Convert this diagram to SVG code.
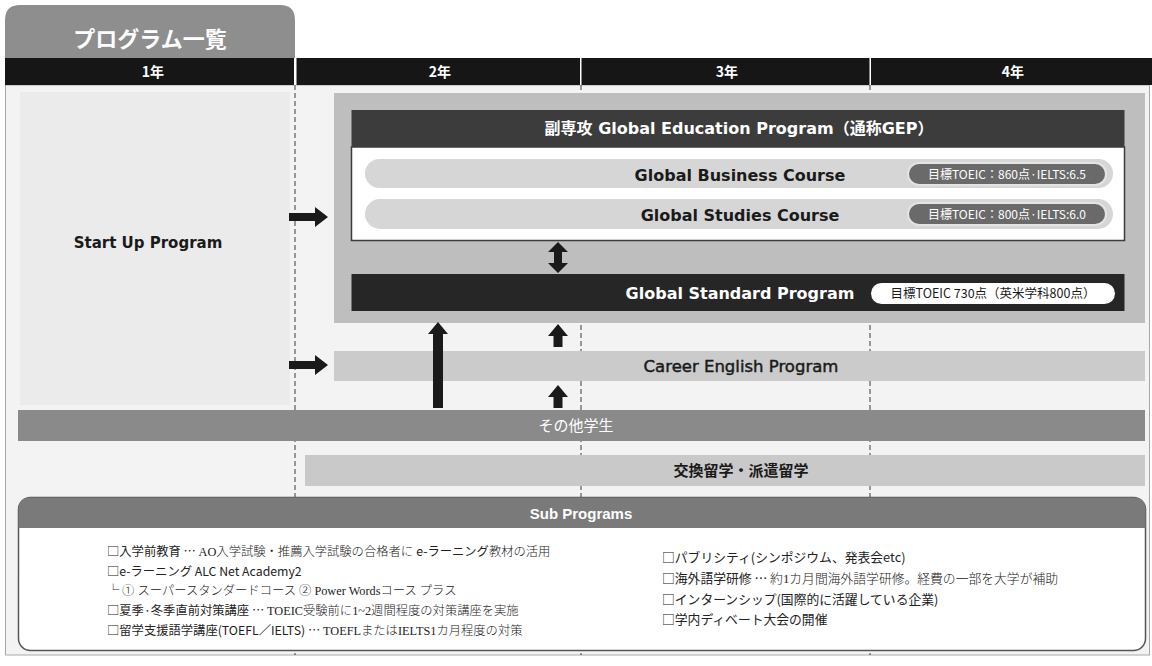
<svg xmlns="http://www.w3.org/2000/svg" width="1152" height="666" viewBox="0 0 1152 666">
<style>
.sans{font-family:"Liberation Sans","Noto Sans CJK JP",sans-serif}
.dv{font-family:"DejaVu Sans","Noto Sans CJK JP",sans-serif}
.jp{font-family:"Noto Sans CJK JP","Liberation Sans",sans-serif}
.ser{font-family:"Liberation Serif","Noto Sans CJK JP",serif;font-weight:300}
.w{fill:#ffffff}
.k{fill:#1a1a1a}
.b{font-weight:bold}
.arrow{fill:#1a1a1a}
.dash{stroke:#3a3a3a;stroke-width:1;stroke-dasharray:5,3;fill:none}
.yr{font-size:14px;font-weight:bold;fill:#fff;text-anchor:middle}
.li{font-size:12.3px;fill:#222}
.ri{font-size:12.8px;fill:#222}
</style>
<rect x="0" y="0" width="1152" height="666" fill="#ffffff"/>
<g id="title">
<path d="M5,58 V20 Q5,5 20,5 H280 Q295,5 295,20 V58 Z" fill="#8e8e8e"/>
<text x="150" y="47" class="jp b w" font-size="22" text-anchor="middle">プログラム一覧</text>
</g>
<rect x="5.5" y="85" width="1144" height="570" fill="#f3f3f3" stroke="#a8a8a8" stroke-width="1"/>
<g id="years">
<rect x="5" y="58" width="1147" height="27" fill="#161616"/>
<rect x="294" y="58" width="2.5" height="27" fill="#ffffff"/>
<rect x="580" y="58" width="1.5" height="27" fill="#ffffff"/>
<rect x="869.5" y="58" width="1.5" height="27" fill="#ffffff"/>
<text x="153" y="77" class="jp yr">1年</text>
<text x="440" y="77" class="jp yr">2年</text>
<text x="727" y="77" class="jp yr">3年</text>
<text x="1013" y="77" class="jp yr">4年</text>
</g>
<g id="grid">
<line x1="295" y1="85" x2="295" y2="655" class="dash"/>
<line x1="581" y1="85" x2="581" y2="655" class="dash"/>
<line x1="870" y1="85" x2="870" y2="655" class="dash"/>
</g>
<g id="startup">
<rect x="20" y="92" width="270" height="313" fill="#ebebeb"/>
<text x="148" y="248" class="dv b k" font-size="15" text-anchor="middle">Start Up Program</text>
</g>
<g id="gep">
<rect x="334" y="93" width="811" height="230" fill="#bebebe"/>
<rect x="351.5" y="110" width="773" height="37" fill="#3c3c3c"/>
<text x="739" y="134" class="dv b w" font-size="16" text-anchor="middle">副専攻 Global Education Program（通称GEP）</text>
<rect x="351.5" y="147" width="773" height="93.5" fill="#ffffff" stroke="#3c3c3c" stroke-width="1.5"/>
</g>
<g id="business">
<rect x="365" y="159" width="748" height="29" rx="14.5" fill="#d6d6d6"/>
<text x="740" y="181" class="dv b k" font-size="16" text-anchor="middle">Global Business Course</text>
<rect x="907" y="162" width="200" height="24" rx="12" fill="#e4e4e4"/>
<rect x="909" y="164" width="196" height="20" rx="10" fill="#6a6a6a"/>
<text x="1007" y="179" class="jp w" font-size="12" text-anchor="middle">目標TOEIC：860点·IELTS:6.5</text>
</g>
<g id="studies">
<rect x="365" y="199" width="748" height="30" rx="15" fill="#d6d6d6"/>
<text x="740" y="221" class="dv b k" font-size="16" text-anchor="middle">Global Studies Course</text>
<rect x="907" y="202" width="200" height="24" rx="12" fill="#e4e4e4"/>
<rect x="909" y="204" width="196" height="20" rx="10" fill="#6a6a6a"/>
<text x="1007" y="219" class="jp w" font-size="12" text-anchor="middle">目標TOEIC：800点·IELTS:6.0</text>
</g>
<g id="gsp">
<rect x="351.5" y="274" width="773" height="37" fill="#262626"/>
<text x="740" y="299" class="dv b w" font-size="16" text-anchor="middle">Global Standard Program</text>
<rect x="871" y="283" width="244" height="21" rx="10.5" fill="#ffffff"/>
<text x="993" y="298" class="jp k" font-size="12.5" text-anchor="middle">目標TOEIC 730点（英米学科800点）</text>
</g>
<g id="career">
<rect x="334" y="351" width="811" height="30" fill="#cbcbcb"/>
<text x="741" y="372" class="dv k" font-size="16.5" stroke="#1a1a1a" stroke-width="0.45" text-anchor="middle">Career English Program</text>
</g>
<g id="others">
<rect x="18" y="410" width="1127" height="31" fill="#8a8a8a"/>
<text x="576" y="431" class="jp w" font-size="15" text-anchor="middle">その他学生</text>
</g>
<g id="exchange">
<rect x="305" y="455" width="840" height="31" fill="#c9c9c9"/>
<text x="741" y="476" class="jp b k" font-size="15" text-anchor="middle">交換留学・派遣留学</text>
</g>
<g id="connectors">
<polygon class="arrow" points="289,213 315,213 315,207 328,217 315,227 315,221 289,221"/>
<polygon class="arrow" points="289,361 315,361 315,355 328,365 315,375 315,369 289,369"/>
<polygon class="arrow" points="558,242 568,252 562,252 562,263 568,263 558,273 548,263 554,263 554,252 548,252"/>
<polygon class="arrow" points="438,322 448,334 443,334 443,408 433,408 433,334 428,334"/>
<polygon class="arrow" points="558,324 568,336 562.5,336 562.5,347 553.5,347 553.5,336 548,336"/>
<polygon class="arrow" points="558,385 568,397 562.5,397 562.5,408 553.5,408 553.5,397 548,397"/>
</g>
<g id="sub">
<rect x="18.5" y="497.5" width="1127" height="153" rx="12" fill="#ffffff" stroke="#555" stroke-width="1.5"/>
<path d="M18.5,528 V509.5 Q18.5,497.5 30.5,497.5 H1133.5 Q1145.5,497.5 1145.5,509.5 V528 Z" fill="#7a7a7a"/>
<text x="581" y="519" class="sans b w" font-size="15" text-anchor="middle">Sub Programs</text>
<text x="107" y="556" class="li"><tspan class="jp">□入学前教育 … </tspan><tspan class="ser">AO入学試験・推薦入学試験の合格者に </tspan><tspan class="jp">e-ラーニング</tspan><tspan class="ser">教材の活用</tspan></text>
<text x="107" y="576" class="li jp" font-size="13">□e-ラーニング ALC Net Academy2</text>
<text x="107" y="595" class="li" font-size="11.5"><tspan class="jp">└ </tspan><tspan class="ser">① スーパースタンダードコース  ② Power Wordsコース プラス</tspan></text>
<text x="107" y="615" class="li"><tspan class="jp">□夏季·冬季直前対策講座 … </tspan><tspan class="ser">TOEIC受験前に1~2週間程度の対策講座を実施</tspan></text>
<text x="107" y="635" class="li"><tspan class="jp">□留学支援語学講座(TOEFL／IELTS) … </tspan><tspan class="ser">TOEFLまたはIELTS1カ月程度の対策</tspan></text>
<text x="662" y="562" class="ri jp">□パブリシティ(シンポジウム、発表会etc)</text>
<text x="662" y="583" class="ri"><tspan class="jp">□海外語学研修 … </tspan><tspan class="ser">約1カ月間海外語学研修。経費の一部を大学が補助</tspan></text>
<text x="662" y="604" class="ri jp">□インターンシップ(国際的に活躍している企業)</text>
<text x="662" y="624" class="ri jp">□学内ディベート大会の開催</text>
</g>
</svg>
